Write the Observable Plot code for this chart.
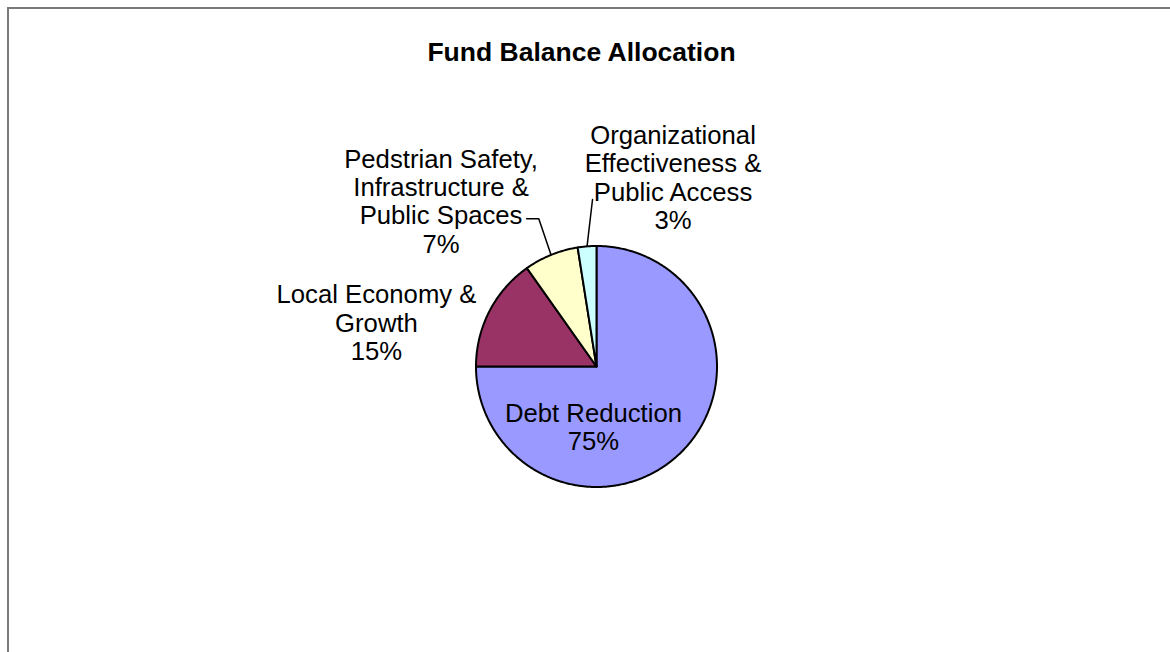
<!DOCTYPE html>
<html>
<head>
<meta charset="utf-8">
<script src="https://cdn.jsdelivr.net/npm/d3@7"></script>
<script src="https://cdn.jsdelivr.net/npm/@observablehq/plot@0.6"></script>
<style>
  html, body { margin: 0; padding: 0; background: #fff; }
  #wrap { position: relative; width: 1170px; height: 652px; overflow: hidden;
          font-family: "Liberation Sans", Arial, sans-serif; }
  #frame { position: absolute; left: 7px; top: 7px; width: 1300px; height: 800px;
           border-left: 2px solid #7a7a7a; border-top: 2px solid #7a7a7a;
           box-sizing: border-box; pointer-events: none; }
  #title { box-sizing: border-box; height: 80px; padding-top: 37px; padding-right: 7px;
           text-align: center; font-weight: bold; font-size: 26.5px; line-height: 30px; color: #000; }
  #chart svg { display: block; }
</style>
</head>
<body>
<div id="wrap">
  <div id="frame"></div>
  <div id="title">Fund Balance Allocation</div>
  <div id="chart"></div>
</div>
<script>
// ---- Data ----
const categories = [
  "Debt Reduction",
  "Local Economy & Growth",
  "Pedstrian Safety, Infrastructure & Public Spaces",
  "Organizational Effectiveness & Public Access"
];
const values = [75, 15.2, 7.3, 2.5];
const labelLines = [
  ["Debt Reduction"],
  ["Local Economy &", "Growth"],
  ["Pedstrian Safety,", "Infrastructure &", "Public Spaces"],
  ["Organizational", "Effectiveness &", "Public Access"]
];
const sliceColors = ["#9999FF", "#993366", "#FFFFCC", "#CCFFFF"];

// ---- Layout (in pie-radius units, separate from data) ----
const labelAnchors = [[-0.025, -0.502], [-1.826, 0.365], [-1.290, 1.373], [0.635, 1.570]];
const leaderElbows = [null, null, [[-0.479, 1.226], [-0.580, 1.226]], [[-0.033, 1.386]]];

// ---- Build geometry from data ----
const arcs = d3.pie().sort(null).value(d => d)(values);
const slicePts = [];
arcs.forEach((a, i) => {
  const name = categories[i];
  slicePts.push({name, x: 0, y: 0});
  const n = Math.max(2, Math.ceil((a.endAngle - a.startAngle) / (Math.PI / 360)));
  for (let k = 0; k <= n; k++) {
    const t = a.startAngle + (a.endAngle - a.startAngle) * k / n;
    slicePts.push({name, x: Math.sin(t), y: Math.cos(t)});
  }
  slicePts.push({name, x: 0, y: 0});
});

const labels = arcs.map((a, i) => ({
  name: categories[i],
  x: labelAnchors[i][0],
  y: labelAnchors[i][1],
  text: [...labelLines[i], Math.round(values[i]) + "%"].join("\n")
}));

const leaders = [];
arcs.forEach((a, i) => {
  if (!leaderElbows[i]) return;
  const m = (a.startAngle + a.endAngle) / 2;
  leaders.push({id: i, x: Math.sin(m), y: Math.cos(m)});
  leaderElbows[i].forEach(p => leaders.push({id: i, x: p[0], y: p[1]}));
});

const cx = 596, cy = 286, r = 120.5;
const chart = Plot.plot({
  width: 1170,
  height: 572,
  margin: 0,
  style: {fontFamily: '"Liberation Sans", Arial, sans-serif', background: "transparent"},
  x: {domain: [-1, 1], range: [cx - r, cx + r], axis: null},
  y: {domain: [-1, 1], range: [cy + r, cy - r], axis: null},
  color: {domain: categories, range: sliceColors},
  marks: [
    Plot.line(slicePts, {x: "x", y: "y", z: "name", fill: "name", stroke: "#000",
      strokeWidth: 2, strokeLinejoin: "round", strokeLinecap: "round", curve: "linear"}),
    Plot.line(leaders, {x: "x", y: "y", z: "id", stroke: "#000", strokeWidth: 1.5}),
    Plot.text(labels, {x: "x", y: "y", text: "text", fontSize: 25.7, lineHeight: 1.105,
      textAnchor: "middle", lineAnchor: "middle", fill: "#000"})
  ]
});
document.getElementById("chart").appendChild(chart);
</script>
</body>
</html>
